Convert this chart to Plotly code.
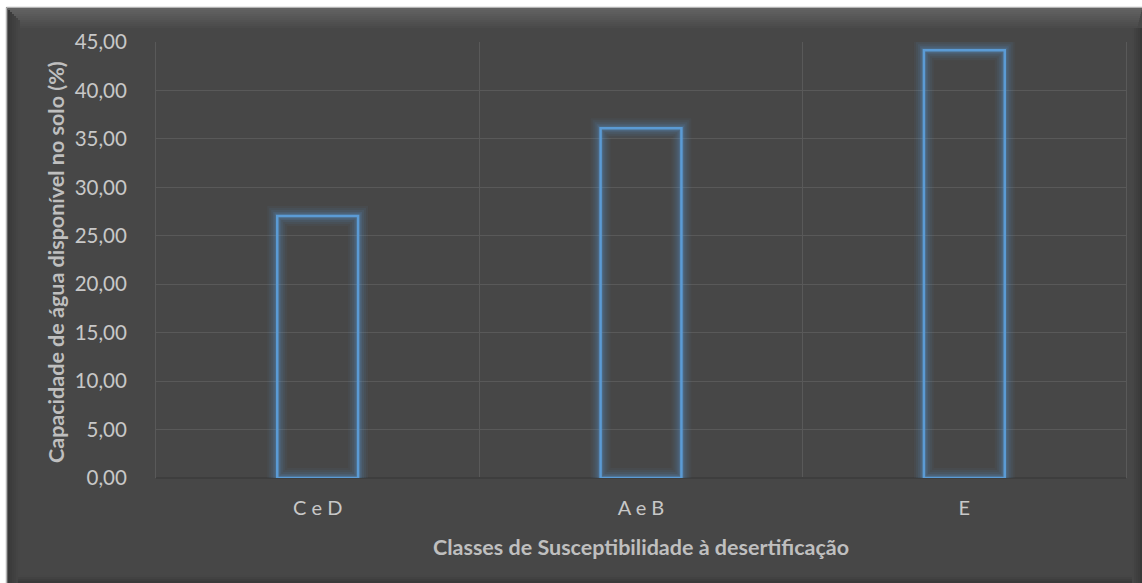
import plotly.graph_objects as go

categories = ["C e D", "A e B", "E"]
values = [27.05, 36.1, 44.15]
y_ticks = [0, 5, 10, 15, 20, 25, 30, 35, 40, 45]
y_tick_labels = ["0,00", "5,00", "10,00", "15,00", "20,00", "25,00", "30,00", "35,00", "40,00", "45,00"]
x_title = "Classes de Susceptibilidade à desertificação"
y_title = "Capacidade de água disponível no solo (%)"

W, H = 1142, 583
L, R, T, B = 156, 16, 42, 105
PW, PH = W - L - R, H - T - B

def px(x):
    return (x - L) / PW

def py(y):
    return (H - B - y) / PH

BG = "#474747"
BLUE = "#5b9bd5"
GRID = "#595959"
FONT = "Lato"

fig = go.Figure()

# glow layers
for lw, a in [(20, 0.05), (16, 0.07), (12, 0.09), (8, 0.13), (5, 0.18)]:
    fig.add_trace(go.Bar(
        x=categories, y=values, width=0.25,
        marker=dict(color="rgba(0,0,0,0)", line=dict(color=f"rgba(91,155,213,{a})", width=lw)),
        hoverinfo="skip", showlegend=False,
    ))
fig.add_trace(go.Bar(
    x=categories, y=values, width=0.25,
    marker=dict(color="rgba(0,0,0,0)", line=dict(color=BLUE, width=2.5)),
    showlegend=False,
))

shapes = []
# white margin strips + panel border
shapes.append(dict(type="rect", xref="paper", yref="paper", x0=px(0), x1=px(W), y0=py(0), y1=py(7),
                   fillcolor="white", line=dict(width=0), layer="below"))
shapes.append(dict(type="rect", xref="paper", yref="paper", x0=px(0), x1=px(6), y0=py(0), y1=py(H),
                   fillcolor="white", line=dict(width=0), layer="below"))
shapes.append(dict(type="line", xref="paper", yref="paper", x0=px(6.5), x1=px(W), y0=py(7.5), y1=py(7.5),
                   line=dict(color="#b4b4b4", width=1.5), layer="below"))
shapes.append(dict(type="line", xref="paper", yref="paper", x0=px(6.5), x1=px(6.5), y0=py(7.5), y1=py(H),
                   line=dict(color="#b4b4b4", width=1.5), layer="below"))

def lerp(c1, c2, t):
    return "rgb(%d,%d,%d)" % tuple(round(c1[i] + (c2[i] - c1[i]) * t) for i in range(3))

# top bevel
n = 10
for i in range(n):
    y0 = 8 + i * 2
    shapes.append(dict(type="rect", xref="paper", yref="paper", x0=px(8 + i), x1=px(W - i * 0.5), y0=py(y0), y1=py(y0 + 2),
                       fillcolor=lerp((98, 98, 98), (74, 74, 74), i / (n - 1)), line=dict(width=0), layer="below"))
# left bevel
for i in range(6):
    x0 = 8 + i * 2
    shapes.append(dict(type="rect", xref="paper", yref="paper", x0=px(x0), x1=px(x0 + 2), y0=py(8 + 2 * i + 2), y1=py(H),
                       fillcolor=lerp((58, 58, 58), (70, 70, 70), i / 5), line=dict(width=0), layer="below"))
# right bevel
for i in range(5):
    x1 = W - i * 2
    shapes.append(dict(type="rect", xref="paper", yref="paper", x0=px(x1 - 2), x1=px(x1), y0=py(28), y1=py(H),
                       fillcolor=lerp((56, 56, 56), (70, 70, 70), i / 4), line=dict(width=0), layer="below"))
# bottom bevel
for i in range(4):
    y1 = H - i * 2
    shapes.append(dict(type="rect", xref="paper", yref="paper", x0=px(18), x1=px(W - 10), y0=py(y1 - 2), y1=py(y1),
                       fillcolor=lerp((58, 58, 58), (70, 70, 70), i / 3), line=dict(width=0), layer="below"))

annotations = [
    dict(text=f"<b>{x_title}</b>", xref="paper", yref="paper", x=px(641), y=py(547),
         xanchor="center", yanchor="middle", showarrow=False,
         font=dict(family=FONT, size=21.5, color="#bfbfbf")),
    dict(text=f"<b>{y_title}</b>", xref="paper", yref="paper", x=px(56), y=py(262),
         xanchor="center", yanchor="middle", showarrow=False, textangle=-90,
         font=dict(family=FONT, size=21.5, color="#bfbfbf")),
]

fig.update_layout(
    width=W, height=H,
    margin=dict(l=L, r=R, t=T, b=B, pad=0),
    paper_bgcolor=BG,
    plot_bgcolor="rgba(0,0,0,0)",
    barmode="overlay",
    shapes=shapes,
    annotations=annotations,
    xaxis=dict(
        type="category", tickson="boundaries", showgrid=True, gridcolor=GRID, gridwidth=1,
        ticks="", showline=False, zeroline=False,
        tickfont=dict(family=FONT, size=20, color="#c8c8c8"),
        ticklabelstandoff=16,
        range=[-0.5, 2.5],
    ),
    yaxis=dict(
        range=[0, 45], tickvals=y_ticks, ticktext=y_tick_labels,
        showgrid=True, gridcolor=GRID, gridwidth=1,
        zeroline=True, zerolinecolor="#3e3e3e", zerolinewidth=1.5,
        ticks="", showline=True, linecolor=GRID, linewidth=1, mirror=True,
        tickfont=dict(family=FONT, size=20.5, color="#c8c8c8"),
        ticklabelstandoff=24,
    ),
)

fig.write_html("out.html")
